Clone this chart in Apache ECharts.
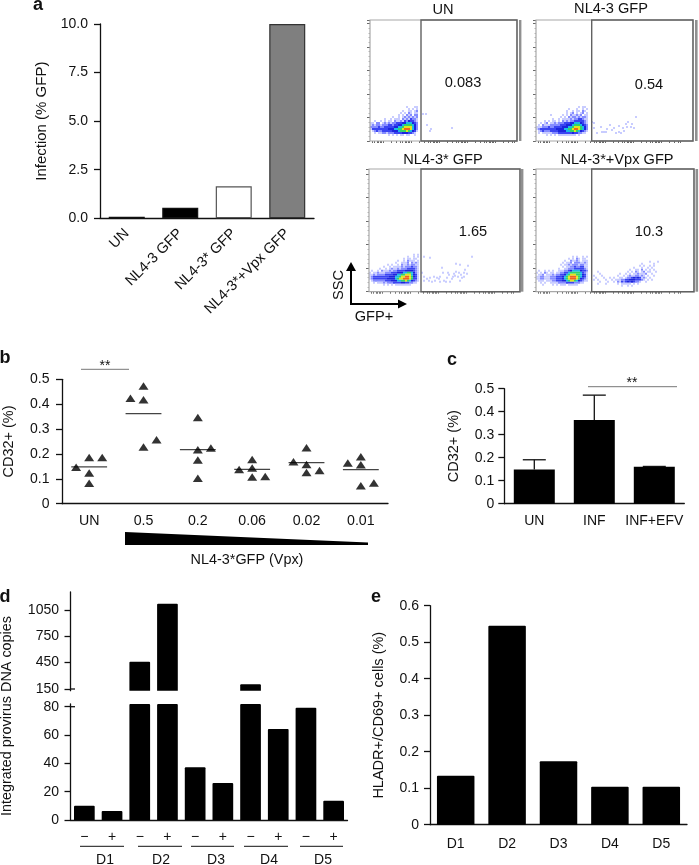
<!DOCTYPE html>
<html><head><meta charset="utf-8">
<style>html,body{margin:0;padding:0;background:#fff}#c{width:699px;height:865px}</style>
<script src="https://cdn.jsdelivr.net/npm/echarts@6/dist/echarts.min.js"></script>
</head><body><div id="c"></div>
<script>
// ---------- data ----------
const aCategories = ['UN','NL4-3 GFP','NL4-3* GFP','NL4-3*+Vpx GFP'];
const aValues = [0.083,0.54,1.65,10];
const bCategories = ['UN','0.5','0.2','0.06','0.02','0.01'];
const bOffsets = [
  [-0.24,0,0.24,0,0],[-0.24,0,0,0,0.24],[0,0,0.24,0,0],[-0.24,0,0,0,0.24],[-0.24,0,0,0,0.24],[-0.24,0,0,0,0.24]];
const bValues = [
  [0.147,0.186,0.186,0.123,0.082],
  [0.424,0.473,0.418,0.228,0.257],
  [0.346,0.217,0.224,0.176,0.102],
  [0.137,0.178,0.143,0.107,0.109],
  [0.169,0.225,0.158,0.125,0.133],
  [0.164,0.189,0.157,0.072,0.083]];
const bMeans = [0.148,0.362,0.217,0.138,0.165,0.137];
const cCategories = ['UN','INF','INF+EFV'];
const cValues = [0.149,0.364,0.161];
const cErrorTops = [0.191,0.472,0.162];
const dCategories = ['−','+','−','+','−','+','−','+','−','+'];
const dGroups = ['D1','D2','D3','D4','D5'];
const dValues = [10.1,6.4,461,1120,37.2,26.1,204,64.2,79.3,13.6];
const dUpperTicks = [150,450,750,1050];
const dLowerTicks = [0,20,40,60,80];
const eCategories = ['D1','D2','D3','D4','D5'];
const eValues = [0.134,0.545,0.1735,0.104,0.104];
const flowTitles = ['UN','NL4-3 GFP','NL4-3* GFP','NL4-3*+Vpx GFP'];
const flowPercents = ['0.083','0.54','1.65','10.3'];
const flowXTicks = [1.9,4.6,6.8,8.7,10.3,11.7,13,21.4,26.4,29.9,32.6,34.8,36.7,38.3,39.7,41,49.4,54.4,57.9,60.6,62.8,64.7,66.3,67.7,69,77.4,82.4,85.9,88.6,90.8,92.7,94.3,95.7,97,105.4,110.4,113.9,116.6,118.8,120.7,122.3,123.7,125,133.4,138.4,141.9,144.6];
// density levels, top row first
const density1 = ['0000000000000000000000000','0000000000000000001000110','0000000000000000000101010','0000000000000000100110120','0000000000000001010210110','0000000000000010102120220','0000000000010010121212120','0000000100101110212132210','0010010101102112132433210','1102201212122333445554320','1212212223323344566665420','2222322333334455677775420','1333333334445566788875420','0123223333344456667654310','0010112212223333444332100','0000000001010101101100100'];
const density2 = ['000000000000000000000000000','000000000000000000000101100','000000000000000010001001010','000000000000000100101102100','000000000000000101201012010','000000010000010102112120110','000000000000101021221212210','000000001001011112122332110','000010101101021212233333210','001012011212223334455543210','010211122222333444566654320','111222322333344455677765420','123333333344445566788765420','012322233334444556676543210','010111112223333333433221100','000001010101111111110100000'];
const density3 = ['00000000000000000000001010','00000000000000000001001010','00000000000000000101101100','00000000000000100102111010','00000000000001001112021210','00000000010100102112122110','00000001001011112122232210','00000100101211212223333210','01001021112122333344443210','10112111222333444556654210','11212222333344556677754310','12333333334445567788764310','12333333344445677888763310','01222222333444556676543210','00101112122233334433221100','00000001010101111111100000'];
const density4 = ['000000000000000000000000000','000000000000000000101001010','000000000000000010102101100','000000000000001002112101110','000000000000010112022211210','000000000000101121222122110','000000000000010112232233110','000000000001001122233333210','010010101001112234555543320','101021011011223356666653210','011201112122334567776654310','112211122233345678887654310','112211122233345678887643210','011101112233344567765432110','001010011112222333322211000','000100001010111011111000000'];
const density4Gate = ['0000000000000000000000000000100010','0000000000000000000000001000001000','0000000000000000000000010100101000','0000000000000000000010001001010000','0000000000000000001001102010101000','0010000000000000010102101201100100','0001000000000100101011211120010000','1000100000001001012112212101001000','0100010010100110122343431210100000','1010001001011122334443332101010000','0001000100102132343432210010000000','0010001000001011111010100000000000','0000000000000010010100000000000000'];
const gate1 = [[53,27],[56,27],[57,16],[61,12],[82,13],[60,10]];
const gate2 = [[56,19],[58,13],[65,14],[66,9],[70,9],[74,16],[78,13],[80,8],[83,9],[85,8],[87,13],[90,17],[92,19],[95,14],[98,13],[58,18],[61,8],[71,12],[76,11],[88,10],[91,14],[96,17],[83,15],[68,9],[100,24]];
const gate3 = [[55,35],[61,34],[53,19],[55,15],[55,11],[61,14],[65,15],[66,11],[70,13],[71,15],[74,19],[75,11],[78,14],[80,17],[81,10],[83,13],[85,18],[87,20],[90,19],[89,15],[93,14],[95,19],[91,27],[96,22],[98,18],[73,24],[63,10],[68,14],[77,10],[84,15],[91,11],[71,10],[58,13],[87,28],[60,11],[99,26],[86,16],[92,17],[95,15],[79,19],[103,35]];

// ---------- styles ----------
const FONT = '"Liberation Sans", Arial, sans-serif';
const INK = '#111';
const LEVEL_COLORS = ['#fff','#c8ccff','#848bff','#3a44f2','#1c24dc','#1cb8e6','#33d468','#e2e41e','#f0641e'];
const lineStyle = {color:INK,width:1.3};
const labelStyle = {color:INK,fontFamily:FONT,fontSize:14};
const nameStyle = {color:INK,fontFamily:FONT,fontSize:14.5};

const grids=[],xAxes=[],yAxes=[],series=[],graphics=[];
function addGrid(left,top,width,height){grids.push({left,top,width,height,containLabel:false});return grids.length-1;}
function catX(grid,data,extra){xAxes.push(Object.assign({type:'category',gridIndex:grid,data,
  axisLine:{lineStyle,onZero:false},axisTick:{alignWithLabel:true,length:6,lineStyle},
  axisLabel:Object.assign({interval:0,margin:9},labelStyle),splitLine:{show:false}},extra||{}));return xAxes.length-1;}
function valY(grid,min,max,extra){yAxes.push(Object.assign({type:'value',gridIndex:grid,min,max,
  axisLine:{show:true,lineStyle},axisTick:{show:true,length:6,lineStyle},
  axisLabel:Object.assign({margin:12},labelStyle),splitLine:{show:false},
  nameLocation:'middle',nameRotate:90,nameTextStyle:nameStyle},extra||{}));return yAxes.length-1;}
function text(x,y,s,o){graphics.push({type:'text',silent:true,x,y,rotation:(o&&o.rotation)||0,style:{text:s,
  fill:(o&&o.fill)||INK,font:((o&&o.bold)?'bold ':'')+((o&&o.size)||14)+'px '+FONT,
  textAlign:(o&&o.align)||'center',textVerticalAlign:'middle',verticalAlign:'middle'},z:20});}
function hline(x1,y1,x2,y2,color,w){graphics.push({type:'line',silent:true,shape:{x1,y1,x2,y2},style:{stroke:color||INK,lineWidth:w||1.2},z:20});}
function rect(x,y,w,h,stroke,lw){graphics.push({type:'rect',silent:true,shape:{x,y,width:w,height:h},style:{fill:'none',stroke,lineWidth:lw},z:15});}
function poly(points,fill){graphics.push({type:'polygon',silent:true,shape:{points},style:{fill},z:20});}

// ---------- panel a ----------
{const g=addGrid(100,24,214,194.3);
 const x=catX(g,aCategories,{axisLabel:Object.assign({},labelStyle,{interval:0,margin:13,rotate:45,fontSize:14.6})});
 const y=valY(g,0,10,{interval:2.5,name:'Infection (% GFP)',nameGap:51,nameTextStyle:Object.assign({},nameStyle,{fontSize:15}),axisLabel:Object.assign({margin:12,formatter:v=>v.toFixed(1)},labelStyle)});
 const fills=['#000','#000','#fff','#7f7f7f'],edges=['#111','#111','#555','#333'];
 series.push({type:'bar',xAxisIndex:x,yAxisIndex:y,barWidth:36,silent:true,
  data:aValues.map((v,i)=>({value:v,itemStyle:{color:fills[i],borderColor:edges[i],borderWidth:1.2}}))});
}
// ---------- flow panels ----------
const flowLayout=[
 {l:370,t:20,w:147,h:121,gate:51,bar:[519,2.4]},
 {l:536,t:20,w:157,h:121,gate:55.7,bar:[695,2.6]},
 {l:369,t:169,w:151,h:122.7,gate:52,bar:[521,2.4]},
 {l:536,t:169,w:158,h:122.7,gate:55.7,bar:[695.5,2.6]}];
const flowDensity=[density1,density2,density3,density4];
const flowDensityOrigin=[[1,36],[1,36],[1,37],[1,37]];
const flowGate=[gate1,gate2,gate3,null];
const titlePos=[[443,10],[611,9],[443,160],[617,160]];
const pctPos=[[463,83],[649,85],[473,232],[649,232]];
flowLayout.forEach((p,i)=>{
 const g=addGrid(p.l,p.t,p.w,p.h);
 xAxes.push({type:'value',gridIndex:g,min:0,max:p.w,axisLine:{show:false},
  axisTick:{show:true,length:2,customValues:flowXTicks.filter(v=>v<=p.w),lineStyle:{color:'#444',width:0.8}},axisLabel:{show:false},splitLine:{show:false}});
 yAxes.push({type:'value',gridIndex:g,min:0,max:p.h,interval:23.5,axisLine:{show:false},
  axisTick:{show:true,length:3,lineStyle:{color:'#444',width:0.8}},minorTick:{show:true,splitNumber:5,length:1.5,lineStyle:{color:'#888',width:0.6}},axisLabel:{show:false},splitLine:{show:false}});
 const xi=xAxes.length-1,yi=yAxes.length-1;
 const pts=[];
 const [ox,oy]=flowDensityOrigin[i];
 flowDensity[i].forEach((row,r)=>[...row].forEach((c,k)=>{if(c!=='0')pts.push([ox+2*k,oy-2*r,+c]);}));
 if(i===3)density4Gate.forEach((row,r)=>[...row].forEach((c,k)=>{if(c!=='0')pts.push([58+2*k,30-2*r,+c]);}));
 if(flowGate[i])flowGate[i].forEach(d=>pts.push([d[0],d[1],1]));
 series.push({type:'scatter',xAxisIndex:xi,yAxisIndex:yi,symbol:'rect',symbolSize:2,silent:true,animation:false,
   data:pts,itemStyle:{color:q=>LEVEL_COLORS[q.value[2]],opacity:1}});
 rect(p.l,p.t,p.w,p.h,'#a8a8a8',1.2);
 rect(p.l+p.gate,p.t,p.w-p.gate,p.h,'#626262',1.4);
 graphics.push({type:'rect',silent:true,shape:{x:p.bar[0],y:p.t,width:p.bar[1],height:p.h},style:{fill:'#909090'},z:15});
 text(titlePos[i][0],titlePos[i][1],flowTitles[i],{size:14.6});
 text(pctPos[i][0],pctPos[i][1],flowPercents[i],{size:14.6});
});
// axis arrows
hline(351,304,351,268,'#000',2);hline(350,304,400,304,'#000',2);
poly([[351,262],[346,271],[356,271]],'#000');poly([[407,304],[398,299.5],[398,308.5]],'#000');
text(339,285,'SSC',{rotation:Math.PI/2,size:14.6});
text(374,317,'GFP+',{size:14.6});

// ---------- panel b ----------
{const g=addGrid(60,379.3,328,124.4);
 const x=catX(g,bCategories,{axisLabel:Object.assign({},labelStyle,{interval:0,margin:10,fontSize:14.2})});
 xAxes.push({type:'value',gridIndex:g,min:0,max:6,show:false});const xv=xAxes.length-1;
 const y=valY(g,0,0.5,{interval:0.1,name:'CD32+ (%)',nameGap:46,axisLabel:Object.assign({margin:12.5},labelStyle)});
 const pts=[];bValues.forEach((vals,i)=>vals.forEach((v,j)=>pts.push([i+0.5+bOffsets[i][j],v])));
 series.push({type:'scatter',xAxisIndex:xv,yAxisIndex:y,symbol:'triangle',symbolSize:[10,7.5],silent:true,itemStyle:{color:'#000'},data:pts});
 series.push({type:'custom',xAxisIndex:xv,yAxisIndex:y,silent:true,data:bMeans.map((m,i)=>[i+0.5,m]),
  renderItem:(p,api)=>{const a=api.coord([api.value(0)-0.33,api.value(1)]),b=api.coord([api.value(0)+0.33,api.value(1)]);
   return {type:'line',shape:{x1:a[0],y1:a[1],x2:b[0],y2:b[1]},style:{stroke:'#444',lineWidth:1.2}};}});
 hline(81,369.3,129,369.3,'#777',1);text(105,366.5,'**');
 poly([[125,532],[368,542.6],[368,545],[125,545]],'#000');
 text(247,560,'NL4-3*GFP (Vpx)',{size:14.4});
}
// ---------- panel c ----------
{const g=addGrid(504.3,388.7,180,115);
 const x=catX(g,cCategories,{axisLabel:Object.assign({interval:0,margin:10},labelStyle)});
 const y=valY(g,0,0.5,{interval:0.1,name:'CD32+ (%)',nameGap:43,axisLabel:Object.assign({margin:10},labelStyle)});
 series.push({type:'bar',xAxisIndex:x,yAxisIndex:y,barWidth:41,silent:true,itemStyle:{color:'#000'},data:cValues});
 series.push({type:'custom',xAxisIndex:x,yAxisIndex:y,silent:true,z:3,data:cErrorTops.map((t,i)=>[i,t,cValues[i]]),
  renderItem:(p,api)=>{const a=api.coord([api.value(0),api.value(1)]),b=api.coord([api.value(0),api.value(2)]);
   const st={stroke:'#111',lineWidth:1.3};
   return {type:'group',children:[
    {type:'line',shape:{x1:a[0],y1:a[1],x2:b[0],y2:b[1]},style:st},
    {type:'line',shape:{x1:a[0]-11.5,y1:a[1],x2:a[0]+11.5,y2:a[1]},style:st}]};}});
 hline(588,386.7,677,386.7,'#777',1);text(632,383.5,'**');
}
// ---------- panel d ----------
{const gU=addGrid(70.5,592,277,98.7);
 const xU=catX(gU,dCategories,{axisLine:{show:false},axisTick:{show:false},axisLabel:{show:false}});
 const yU=valY(gU,130,1254,{axisLabel:Object.assign({margin:11.5,customValues:dUpperTicks,formatter:v=>String(v)},labelStyle),axisTick:{show:true,length:2,customValues:dUpperTicks,lineStyle}});
 yAxes[yU].axisTick.length=6;
 series.push({type:'bar',xAxisIndex:xU,yAxisIndex:yU,barWidth:20.7,silent:true,itemStyle:{color:'#000',borderRadius:[1,1,0,0]},
   data:dValues.map(v=>v>=130?v:null)});
 const gL=addGrid(70.5,703.9,277,116.1);
 const xL=catX(gL,dCategories,{axisTick:{alignWithLabel:true,length:7,lineStyle},axisLabel:Object.assign({interval:0,margin:10},labelStyle)});
 const yL=valY(gL,0,82,{axisLabel:Object.assign({margin:11.5,customValues:dLowerTicks},labelStyle),axisTick:{show:true,length:6,customValues:dLowerTicks,lineStyle}});
 series.push({type:'bar',xAxisIndex:xL,yAxisIndex:yL,barWidth:20.7,silent:true,itemStyle:{color:'#000',borderRadius:[1,1,0,0]},data:dValues});
 hline(70.5,689,75,689,INK,1.3);hline(70.5,706.7,75,706.7,INK,1.3);
 const spans=[[80,124],[138,182],[191,234],[244,288],[300,343]],cx=[105,161,216,269,323];
 spans.forEach((s,i)=>{hline(s[0],846.3,s[1],846.3,INK,1);text(cx[i],860,dGroups[i]);});
 text(7.5,716,'Integrated provirus DNA copies',{rotation:Math.PI/2,size:14.4});
}
// ---------- panel e ----------
{const g=addGrid(430,605.7,257,219);
 const x=catX(g,eCategories,{axisLabel:Object.assign({interval:0,margin:12},labelStyle)});
 const y=valY(g,0,0.6,{interval:0.1,name:'HLADR+/CD69+ cells (%)',nameGap:44,axisLabel:Object.assign({margin:11},labelStyle)});
 series.push({type:'bar',xAxisIndex:x,yAxisIndex:y,barWidth:37.5,silent:true,itemStyle:{color:'#000',borderRadius:[1,1,0,0]},data:eValues});
}
// panel letters
[['a',38,5],['b',5,358],['c',452,360],['d',5,597],['e',376,597]].forEach(l=>text(l[1],l[2],l[0],{bold:true,size:18}));

const chart=echarts.init(document.getElementById('c'),null,{renderer:'canvas'});
chart.setOption({animation:false,backgroundColor:'#fff',grid:grids,xAxis:xAxes,yAxis:yAxes,series,graphic:{elements:graphics},tooltip:{show:false}});
</script></body></html>
